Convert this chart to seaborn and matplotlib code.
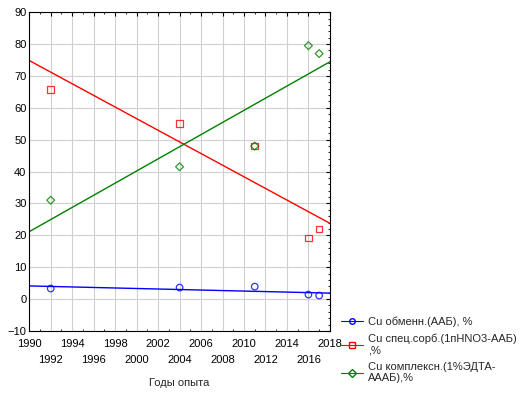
import numpy as np
import pandas as pd
import matplotlib
matplotlib.use("Agg")
import matplotlib.pyplot as plt
import seaborn as sns
from matplotlib.lines import Line2D
from matplotlib.ticker import MultipleLocator, FixedLocator


# =========================================
# DATA
# =========================================

years = [1992, 2004, 2011, 2016, 2017]

cu_exchange = [3.3, 3.6, 3.9, 1.4, 1.1]
cu_specific = [65.8, 55.0, 48.0, 19.2, 22.0]
cu_complex = [31.0, 41.5, 48.0, 79.5, 77.0]

series_labels = [
    "Cu обменн.(ААБ), %",
    "Cu спец.сорб.(1пHNO3-ААБ)\n,%",
    "Cu комплексн.(1%ЭДТА-\nАААБ),%",
]

x_ticks_row1 = list(range(1990, 2019, 4))
x_ticks_row2 = list(range(1992, 2017, 4))
y_ticks = list(range(-10, 91, 10))

df = pd.DataFrame({
    "year": years,
    "exchange": cu_exchange,
    "specific": cu_specific,
    "complex": cu_complex,
})


# =========================================
# STYLE
# =========================================

sns.set_theme(style="whitegrid")
plt.rcParams["font.family"] = ["Liberation Sans", "DejaVu Sans"]

fig = plt.figure(figsize=(5.22, 3.93), dpi=100)
ax = fig.add_axes([0.056, 0.158, 0.576, 0.811])

ax.set_xlim(1990, 2018)
ax.set_ylim(-10, 90)


# =========================================
# SCATTER + REGRESSION
# =========================================

specs = [
    ("exchange", "#0000ff", "o"),
    ("specific", "#ff0000", "s"),
    ("complex", "#008000", "D"),
]

handles = []

for column, color, marker in specs:

    msize = 22 if marker != "D" else 16

    sns.regplot(
        data=df,
        x="year",
        y=column,
        ax=ax,
        ci=None,
        truncate=False,
        marker=marker,
        scatter_kws={"s": msize, "facecolors": "none", "edgecolors": color, "linewidths": 0.9},
        line_kws={"color": color, "lw": 1.0},
    )

    handles.append(
        Line2D([0], [0], color=color, lw=0.8, marker=marker,
               markersize=4, markerfacecolor="none", markeredgecolor=color)
    )


# =========================================
# AXES
# =========================================

# two staggered rows of year labels
ax.xaxis.set_major_locator(FixedLocator(x_ticks_row1))
ax.xaxis.set_minor_locator(FixedLocator(x_ticks_row2))
ax.set_xticklabels([str(t) for t in x_ticks_row1])
ax.set_xticklabels([str(t) for t in x_ticks_row2], minor=True)

ax.set_yticks(y_ticks)
ax.yaxis.set_minor_locator(MultipleLocator(2))

ax.tick_params(axis="both", which="major", labelsize=8, length=3, width=0.8,
               direction="in", top=True, right=True, colors="black", pad=2)
ax.tick_params(axis="y", which="minor", length=1.5, width=0.6,
               direction="in", right=True, colors="black")
ax.tick_params(axis="x", which="major", pad=6)
ax.tick_params(axis="x", which="minor", labelsize=8, length=3, width=0.8,
               direction="in", top=True, colors="black", pad=17)

# yearly minor ticks
for side in ["bottom", "top"]:
    sec = ax.secondary_xaxis(side)
    sec.set_xticks(list(range(1990, 2019)))
    sec.set_xticklabels([])
    sec.tick_params(length=1.5, width=0.6, direction="in", colors="black")
    sec.spines[side].set_visible(False)

ax.xaxis.grid(True, which="both", color="#d0d0d0", lw=0.8)
ax.yaxis.grid(True, which="major", color="#d0d0d0", lw=0.8)

for spine in ax.spines.values():
    spine.set_color("black")
    spine.set_linewidth(0.8)

ax.set_xlabel("Годы опыта", fontsize=8, labelpad=10)
ax.set_ylabel("")


# =========================================
# LEGEND
# =========================================

fig.legend(
    handles,
    series_labels,
    loc="upper left",
    bbox_to_anchor=(0.645, 0.205),
    frameon=False,
    fontsize=8,
    handlelength=2.0,
    handletextpad=0.4,
    labelspacing=0.55,
    borderaxespad=0,
)

plt.savefig("out.png", dpi=100)
